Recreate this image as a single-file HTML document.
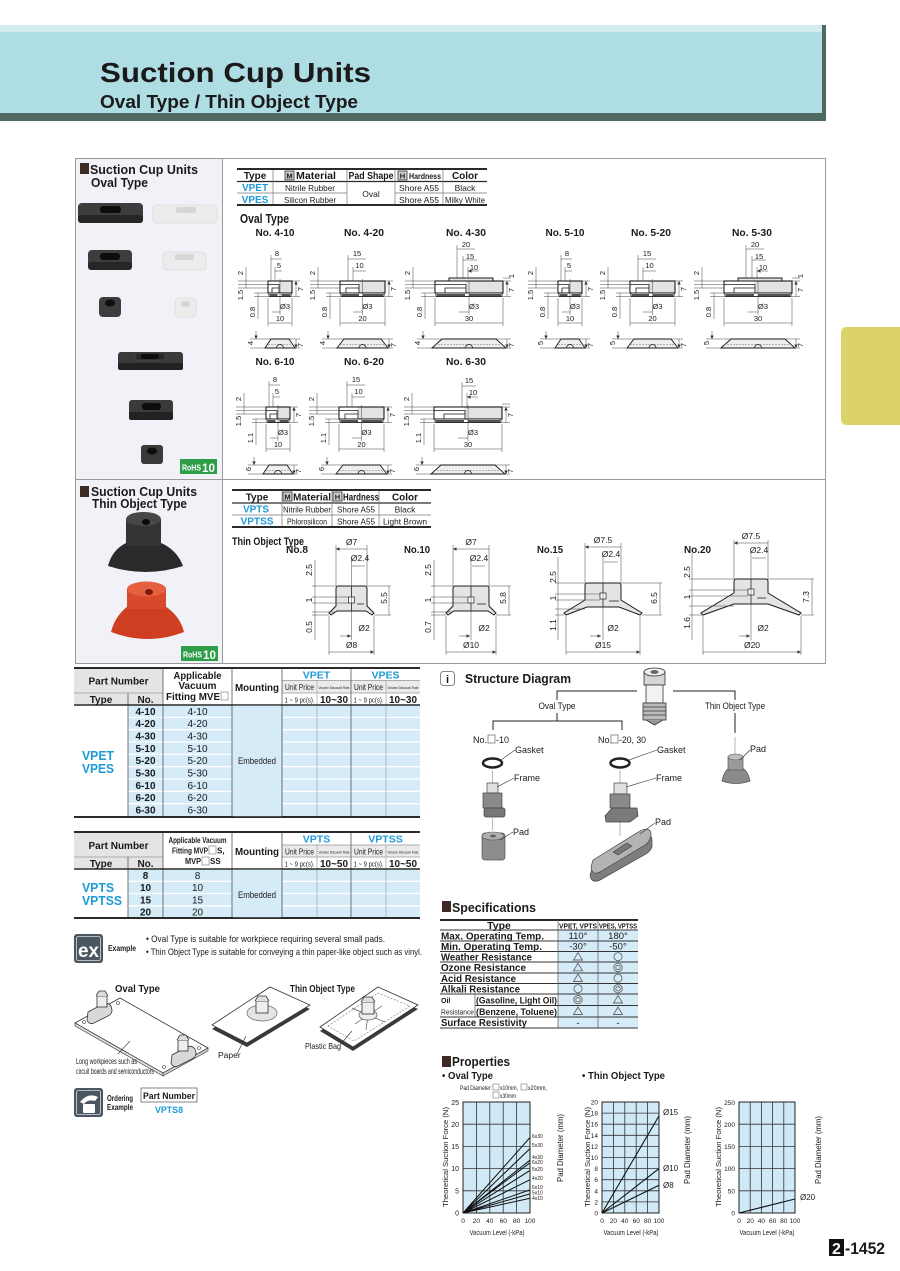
<!DOCTYPE html>
<html><head><meta charset="utf-8">
<style>
html,body{margin:0;padding:0;background:#fff;width:900px;height:1271px;overflow:hidden}
svg{display:block}
text{font-family:"Liberation Sans",Arial,sans-serif;fill:#1a1a1a}
.b{font-weight:bold}
.m{text-anchor:middle}
.e{text-anchor:end}
.bl{fill:#1e9ad8}
.d{font-size:7.5px}
.n{font-size:10.5px;font-weight:bold;text-anchor:middle}
.ln{stroke:#444;stroke-width:.5;fill:none}
.w{fill:#fff}
</style></head><body>
<svg width="900" height="1271" viewBox="0 0 900 1271" xmlns="http://www.w3.org/2000/svg">
<defs>
<marker id="ar" viewBox="0 0 6 6" refX="6" refY="3" markerWidth="3.5" markerHeight="3.5" markerUnits="userSpaceOnUse" orient="auto-start-reverse"><path d="M0 0L6 3L0 6z" fill="#333"/></marker>
<g id="s24">
<rect x="0" y="0" width="24" height="12" fill="#e3e3e3" stroke="#1a1a1a" stroke-width="1.1"/>
<rect x="0.6" y="0.6" width="10.5" height="10.8" fill="#fff"/>
<path d="M0 3.5H11V7H4V12M11 3.5V12" fill="none" stroke="#1a1a1a" stroke-width=".8"/>
<rect x="1" y="12" width="22" height="3.5" fill="#fff" stroke="#1a1a1a" stroke-width=".9"/>
<path d="M2 13.3h7.5v1.5H2zM13.5 13.3h8.5v1.5h-8.5z" fill="#1a1a1a"/>
<path class="ln" d="M-30 0H0M-30 3.5H0M-30 7H0M-14 12H0M-14 15.5H0M-22 -14V7M-10 12V38M24 0H32M24 15.5H32M12 -2V34M3 0V-26M7 0V-14M0 17V45M24 17V45M-18 58H3M-18 67H-3M27 67H32M21 58H32"/>
<path class="ln" marker-end="url(#ar)" d="M14 -22H3M14 -10H7M4 31H12M-12 50V58"/>
<path class="ln" marker-start="url(#ar)" marker-end="url(#ar)" d="M28 0V15.5M0 42H24M28 58V67"/>
<path d="M-3 67L3 58H21L27 67Z" fill="#eee" stroke="#1a1a1a" stroke-width=".9"/>
<path d="M0 63.5H24" stroke="#777" stroke-width=".6" stroke-dasharray="2 1"/>
<path d="M8.5 67A3.5 3.5 0 0 1 15.5 67" fill="none" stroke="#1a1a1a" stroke-width=".8"/>
</g>
<g id="s45">
<rect x="0" y="0" width="45" height="12" fill="#e3e3e3" stroke="#1a1a1a" stroke-width="1.1"/>
<rect x="0.6" y="0.6" width="18" height="10.8" fill="#fff"/>
<path d="M0 3.5H19V7H6V12M19 3.5V12" fill="none" stroke="#1a1a1a" stroke-width=".8"/>
<rect x="1" y="12" width="43" height="3.5" fill="#fff" stroke="#1a1a1a" stroke-width=".9"/>
<path d="M2 13.3h17v1.5H2zM23 13.3h20v1.5H23z" fill="#1a1a1a"/>
<path class="ln" d="M-30 0H0M-30 3.5H0M-30 7H0M-14 12H0M-14 15.5H0M-22 -14V7M-10 12V38M45 0H53M45 15.5H53M22.5 -2V34M8 0V-26M13 0V-14M0 17V45M45 17V45M-18 58H4M-18 67H-3M48 67H53M41 58H53"/>
<path class="ln" marker-end="url(#ar)" d="M26 -22H8M26 -10H13M13 31H22.5M-12 50V58"/>
<path class="ln" marker-start="url(#ar)" marker-end="url(#ar)" d="M49 0V15.5M0 42H45M49 58V67"/>
<path d="M-3 67L4 58H41L48 67Z" fill="#eee" stroke="#1a1a1a" stroke-width=".9"/>
<path d="M0 63.5H45" stroke="#777" stroke-width=".6" stroke-dasharray="2 1"/>
<path d="M19 67A3.5 3.5 0 0 1 26 67" fill="none" stroke="#1a1a1a" stroke-width=".8"/>
</g>
<g id="s68">
<rect x="0" y="0" width="68" height="12" fill="#e3e3e3" stroke="#1a1a1a" stroke-width="1.1"/>
<rect x="0.6" y="0.6" width="30" height="10.8" fill="#fff"/>
<path d="M0 3.5H31V7H10V12M31 3.5V12" fill="none" stroke="#1a1a1a" stroke-width=".8"/>
<rect x="1" y="12" width="66" height="3.5" fill="#fff" stroke="#1a1a1a" stroke-width=".9"/>
<path d="M2 13.3h28v1.5H2zM34 13.3h32v1.5H34z" fill="#1a1a1a"/>
<path class="ln" d="M-30 0H0M-30 3.5H0M-30 7H0M-14 12H0M-14 15.5H0M-22 -14V7M-10 12V38M68 -3H76M68 0H76M68 15.5H76M34 -2V34M0 17V45M68 17V45M-18 58H7M-18 67H-3M71 67H76M61 58H76"/>
<path class="ln" marker-end="url(#ar)" d="M24 31H34M-12 50V58"/>
<path class="ln" marker-start="url(#ar)" marker-end="url(#ar)" d="M72 0V15.5M0 42H68M72 58V67"/>
<path d="M-3 67L7 58H61L71 67Z" fill="#eee" stroke="#1a1a1a" stroke-width=".9"/>
<path d="M0 63.5H68" stroke="#777" stroke-width=".6" stroke-dasharray="2 1"/>
<path d="M30.5 67A3.5 3.5 0 0 1 37.5 67" fill="none" stroke="#1a1a1a" stroke-width=".8"/>
</g>
</defs>

<!-- HEADER -->
<rect x="0" y="25" width="826" height="96" fill="#4f6a61"/>
<rect x="0" y="25" width="822" height="7" fill="#d4ecef"/>
<rect x="0" y="32" width="822" height="81" fill="#afdde4"/>
<text x="100" y="82" class="b" font-size="28" textLength="271" lengthAdjust="spacingAndGlyphs">Suction Cup Units</text>
<text x="100" y="108" class="b" font-size="18" textLength="258" lengthAdjust="spacingAndGlyphs">Oval Type / Thin Object Type</text>

<!-- side tab -->
<rect x="841" y="327" width="70" height="98" rx="5" fill="#dbd26b"/>

<!-- MAIN FRAME -->
<rect x="75.5" y="158.5" width="750" height="505" fill="#fff" stroke="#9a9a9a"/>
<rect x="76" y="159" width="146" height="504" fill="#f1f1f8"/>
<path d="M222.5 158V663M75 479.5H826" stroke="#9a9a9a"/>

<!-- left panel oval -->
<rect x="80" y="163" width="9" height="11" fill="#3b2b22"/>
<text x="90" y="174" class="b" font-size="12.5" textLength="108" lengthAdjust="spacingAndGlyphs">Suction Cup Units</text>
<text x="91" y="187" class="b" font-size="12.5" textLength="57" lengthAdjust="spacingAndGlyphs">Oval Type</text>

<rect x="78" y="203" width="65" height="20" rx="4" fill="#3d3d3d"/>
<rect x="78" y="215" width="65" height="8" rx="3" fill="#262626"/>
<rect x="100" y="206" width="21" height="7" rx="3" fill="#0d0d0d"/>
<rect x="153" y="205" width="64" height="18" rx="4" fill="#ececec" stroke="#dcdcdc" stroke-width=".8"/>
<rect x="176" y="207" width="20" height="6" rx="2" fill="#d6d6d6"/>

<rect x="88" y="250" width="44" height="20" rx="4" fill="#3d3d3d"/>
<rect x="88" y="262" width="44" height="8" rx="3" fill="#262626"/>
<rect x="100" y="253" width="20" height="7" rx="3" fill="#0d0d0d"/>
<rect x="163" y="252" width="43" height="18" rx="4" fill="#ececec" stroke="#dcdcdc" stroke-width=".8"/>
<rect x="175" y="254" width="19" height="6" rx="2" fill="#d6d6d6"/>

<rect x="99" y="297" width="22" height="20" rx="4" fill="#3d3d3d"/>
<ellipse cx="110" cy="303" rx="5" ry="3.5" fill="#0d0d0d"/>
<rect x="175" y="298" width="21" height="19" rx="4" fill="#ececec" stroke="#dcdcdc" stroke-width=".8"/>
<ellipse cx="185.5" cy="304" rx="5" ry="3" fill="#d6d6d6"/>

<rect x="118" y="352" width="65" height="18" rx="3" fill="#3a3a3a"/>
<rect x="118" y="363" width="65" height="7" rx="2" fill="#222"/>
<rect x="135" y="353" width="30" height="7" rx="2" fill="#2a2a2a" stroke="#555" stroke-width=".6"/>
<rect x="141" y="354" width="18" height="5" rx="2" fill="#0d0d0d"/>

<rect x="129" y="400" width="44" height="20" rx="3" fill="#3a3a3a"/>
<rect x="129" y="412" width="44" height="8" rx="2" fill="#222"/>
<rect x="142" y="403" width="19" height="7" rx="3" fill="#0d0d0d"/>

<rect x="141" y="445" width="22" height="19" rx="3" fill="#3a3a3a"/>
<ellipse cx="152" cy="451" rx="5" ry="3.5" fill="#0d0d0d"/>

<rect x="180" y="459" width="37" height="15" fill="#2f9e48"/>
<text x="182" y="470.5" class="b w" font-size="8.5" textLength="19" lengthAdjust="spacingAndGlyphs">RoHS</text>
<text x="202" y="472" class="b w" font-size="12" textLength="13" lengthAdjust="spacingAndGlyphs">10</text>

<!-- oval type table -->
<path d="M237 169H487M237 205H487" stroke="#2a2a2a" stroke-width="2"/>
<path d="M237 181.5H487" stroke="#2a2a2a" stroke-width="1.3"/>
<path d="M237 193H347M395 193H487" stroke="#777" stroke-width=".7"/>
<path d="M273 170V204M347 170V204M395 170V204M443 170V204" stroke="#777" stroke-width=".7"/>
<text x="255" y="179" class="b m" font-size="10">Type</text>
<rect x="285" y="171" width="9" height="9" fill="#cfcfcf" stroke="#333" stroke-width=".8"/>
<text x="289.5" y="178.5" class="b m" font-size="7.5">M</text>
<text x="296" y="179" class="b" font-size="10" textLength="40" lengthAdjust="spacingAndGlyphs">Material</text>
<text x="371" y="179" class="b m" font-size="10" textLength="45" lengthAdjust="spacingAndGlyphs">Pad Shape</text>
<rect x="398" y="171" width="9" height="9" fill="#cfcfcf" stroke="#333" stroke-width=".8"/>
<text x="402.5" y="178.5" class="b m" font-size="7.5">H</text>
<text x="409" y="179" class="b" font-size="8" textLength="32" lengthAdjust="spacingAndGlyphs">Hardness</text>
<text x="465" y="179" class="b m" font-size="10">Color</text>
<text x="255" y="191" class="b m bl" font-size="10">VPET</text>
<text x="310" y="191" class="m" font-size="8.5" textLength="50" lengthAdjust="spacingAndGlyphs">Nitrile Rubber</text>
<text x="371" y="197" class="m" font-size="8.5">Oval</text>
<text x="419" y="191" class="m" font-size="8.5" textLength="40" lengthAdjust="spacingAndGlyphs">Shore A55</text>
<text x="465" y="191" class="m" font-size="8.5">Black</text>
<text x="255" y="203" class="b m bl" font-size="10">VPES</text>
<text x="310" y="203" class="m" font-size="8.5" textLength="52" lengthAdjust="spacingAndGlyphs">Silicon Rubber</text>
<text x="419" y="203" class="m" font-size="8.5" textLength="40" lengthAdjust="spacingAndGlyphs">Shore A55</text>
<text x="465" y="203" class="m" font-size="8" textLength="40" lengthAdjust="spacingAndGlyphs">Milky White</text>

<text x="240" y="223" class="b" font-size="12.5" textLength="49" lengthAdjust="spacingAndGlyphs">Oval Type</text>

<!-- oval drawings -->
<use href="#s24" x="268" y="281"/>
<use href="#s45" x="340" y="281"/>
<use href="#s68" x="435" y="281"/>
<use href="#s24" x="558" y="281"/>
<use href="#s45" x="630" y="281"/>
<use href="#s68" x="724" y="281"/>
<use href="#s24" x="266" y="407"/>
<use href="#s45" x="339" y="407"/>
<use href="#s68" x="434" y="407"/>
<g transform="translate(435 281)"><rect x="14" y="-3" width="44" height="3" fill="#e3e3e3" stroke="#1a1a1a"/><path class="ln" d="M22 -3V-36M28 -3V-25M33 -3V-14"/><path class="ln" marker-end="url(#ar)" d="M40 -32H22M42 -21H28M44 -10H33"/></g>
<g transform="translate(724 281)"><rect x="14" y="-3" width="44" height="3" fill="#e3e3e3" stroke="#1a1a1a"/><path class="ln" d="M22 -3V-36M28 -3V-25M33 -3V-14"/><path class="ln" marker-end="url(#ar)" d="M40 -32H22M42 -21H28M44 -10H33"/></g>
<g transform="translate(434 407)"><path class="ln" d="M28 0V-25M33 0V-14"/><path class="ln" marker-end="url(#ar)" d="M42 -21H28M44 -10H33"/></g>

<text class="n" x="275" y="236" textLength="39" lengthAdjust="spacingAndGlyphs">No. 4-10</text>
<text class="n" x="364" y="236" textLength="40" lengthAdjust="spacingAndGlyphs">No. 4-20</text>
<text class="n" x="466" y="236" textLength="40" lengthAdjust="spacingAndGlyphs">No. 4-30</text>
<text class="n" x="565" y="236" textLength="39" lengthAdjust="spacingAndGlyphs">No. 5-10</text>
<text class="n" x="651" y="236" textLength="40" lengthAdjust="spacingAndGlyphs">No. 5-20</text>
<text class="n" x="752" y="236" textLength="40" lengthAdjust="spacingAndGlyphs">No. 5-30</text>
<text class="n" x="275" y="365" textLength="39" lengthAdjust="spacingAndGlyphs">No. 6-10</text>
<text class="n" x="364" y="365" textLength="40" lengthAdjust="spacingAndGlyphs">No. 6-20</text>
<text class="n" x="466" y="365" textLength="40" lengthAdjust="spacingAndGlyphs">No. 6-30</text>

<g class="d">
<!-- D1 -->
<text x="277" y="256" class="m d">8</text><text x="279" y="268" class="m d">5</text>
<text transform="translate(243 273) rotate(-90)" class="m d">2</text>
<text transform="translate(243 295) rotate(-90)" class="m d">1.5</text>
<text transform="translate(255 312) rotate(-90)" class="m d">0.8</text>
<text transform="translate(303 289) rotate(-90)" class="m d">7</text>
<text x="285" y="309" class="m d">Ø3</text><text x="280" y="321" class="m d">10</text>
<text transform="translate(253 343) rotate(-90)" class="m d">4</text>
<text transform="translate(303 345) rotate(-90)" class="m d">7</text>
<!-- D2 -->
<text x="357" y="256" class="m d">15</text><text x="359.5" y="268" class="m d">10</text>
<text transform="translate(315 273) rotate(-90)" class="m d">2</text>
<text transform="translate(315 295) rotate(-90)" class="m d">1.5</text>
<text transform="translate(327 312) rotate(-90)" class="m d">0.8</text>
<text transform="translate(396 289) rotate(-90)" class="m d">7</text>
<text x="367.5" y="309" class="m d">Ø3</text><text x="362.5" y="321" class="m d">20</text>
<text transform="translate(325 343) rotate(-90)" class="m d">4</text>
<text transform="translate(396 345) rotate(-90)" class="m d">7</text>
<!-- D3 -->
<text x="466" y="247" class="m d">20</text><text x="470" y="259" class="m d">15</text><text x="474" y="270" class="m d">10</text>
<text transform="translate(410 273) rotate(-90)" class="m d">2</text>
<text transform="translate(410 295) rotate(-90)" class="m d">1.5</text>
<text transform="translate(422 312) rotate(-90)" class="m d">0.8</text>
<text transform="translate(514 276) rotate(-90)" class="m d">1</text>
<text transform="translate(514 290) rotate(-90)" class="m d">7</text>
<text x="474" y="309" class="m d">Ø3</text><text x="469" y="321" class="m d">30</text>
<text transform="translate(420 343) rotate(-90)" class="m d">4</text>
<text transform="translate(514 345) rotate(-90)" class="m d">7</text>
<!-- D4 -->
<text x="567" y="256" class="m d">8</text><text x="569" y="268" class="m d">5</text>
<text transform="translate(533 273) rotate(-90)" class="m d">2</text>
<text transform="translate(533 295) rotate(-90)" class="m d">1.5</text>
<text transform="translate(545 312) rotate(-90)" class="m d">0.8</text>
<text transform="translate(593 289) rotate(-90)" class="m d">7</text>
<text x="575" y="309" class="m d">Ø3</text><text x="570" y="321" class="m d">10</text>
<text transform="translate(543 343) rotate(-90)" class="m d">5</text>
<text transform="translate(593 345) rotate(-90)" class="m d">7</text>
<!-- D5 -->
<text x="647" y="256" class="m d">15</text><text x="649.5" y="268" class="m d">10</text>
<text transform="translate(605 273) rotate(-90)" class="m d">2</text>
<text transform="translate(605 295) rotate(-90)" class="m d">1.5</text>
<text transform="translate(617 312) rotate(-90)" class="m d">0.8</text>
<text transform="translate(686 289) rotate(-90)" class="m d">7</text>
<text x="657.5" y="309" class="m d">Ø3</text><text x="652.5" y="321" class="m d">20</text>
<text transform="translate(615 343) rotate(-90)" class="m d">5</text>
<text transform="translate(686 345) rotate(-90)" class="m d">7</text>
<!-- D6 -->
<text x="755" y="247" class="m d">20</text><text x="759" y="259" class="m d">15</text><text x="763" y="270" class="m d">10</text>
<text transform="translate(699 273) rotate(-90)" class="m d">2</text>
<text transform="translate(699 295) rotate(-90)" class="m d">1.5</text>
<text transform="translate(711 312) rotate(-90)" class="m d">0.8</text>
<text transform="translate(803 276) rotate(-90)" class="m d">1</text>
<text transform="translate(803 290) rotate(-90)" class="m d">7</text>
<text x="763" y="309" class="m d">Ø3</text><text x="758" y="321" class="m d">30</text>
<text transform="translate(709 343) rotate(-90)" class="m d">5</text>
<text transform="translate(803 345) rotate(-90)" class="m d">7</text>
<!-- D7 -->
<text x="275" y="382" class="m d">8</text><text x="277" y="394" class="m d">5</text>
<text transform="translate(241 399) rotate(-90)" class="m d">2</text>
<text transform="translate(241 421) rotate(-90)" class="m d">1.5</text>
<text transform="translate(253 438) rotate(-90)" class="m d">1.1</text>
<text transform="translate(301 415) rotate(-90)" class="m d">7</text>
<text x="283" y="435" class="m d">Ø3</text><text x="278" y="447" class="m d">10</text>
<text transform="translate(251 469) rotate(-90)" class="m d">6</text>
<text transform="translate(301 471) rotate(-90)" class="m d">7</text>
<!-- D8 -->
<text x="356" y="382" class="m d">15</text><text x="358.5" y="394" class="m d">10</text>
<text transform="translate(314 399) rotate(-90)" class="m d">2</text>
<text transform="translate(314 421) rotate(-90)" class="m d">1.5</text>
<text transform="translate(326 438) rotate(-90)" class="m d">1.1</text>
<text transform="translate(395 415) rotate(-90)" class="m d">7</text>
<text x="366.5" y="435" class="m d">Ø3</text><text x="361.5" y="447" class="m d">20</text>
<text transform="translate(324 469) rotate(-90)" class="m d">6</text>
<text transform="translate(395 471) rotate(-90)" class="m d">7</text>
<!-- D9 -->
<text x="469" y="383" class="m d">15</text><text x="473" y="395" class="m d">10</text>
<text transform="translate(409 399) rotate(-90)" class="m d">2</text>
<text transform="translate(409 421) rotate(-90)" class="m d">1.5</text>
<text transform="translate(421 438) rotate(-90)" class="m d">1.1</text>
<text transform="translate(513 415) rotate(-90)" class="m d">7</text>
<text x="473" y="435" class="m d">Ø3</text><text x="468" y="447" class="m d">30</text>
<text transform="translate(419 469) rotate(-90)" class="m d">6</text>
<text transform="translate(513 471) rotate(-90)" class="m d">7</text>
</g>

<!-- left panel thin -->
<rect x="80" y="486" width="9" height="11" fill="#3b2b22"/>
<text x="91" y="496" class="b" font-size="12.5" textLength="106" lengthAdjust="spacingAndGlyphs">Suction Cup Units</text>
<text x="92" y="508" class="b" font-size="12.5" textLength="95" lengthAdjust="spacingAndGlyphs">Thin Object Type</text>
<path d="M108 566Q112 550 126 543L161 543Q177 550 183 566Q146 578 108 566Z" fill="#2a2a2a"/>
<rect x="126" y="519" width="35" height="27" fill="#333"/>
<ellipse cx="143.5" cy="519" rx="17.5" ry="7" fill="#474747"/>
<ellipse cx="146" cy="522" rx="4" ry="3" fill="#0a0a0a"/>
<path d="M111 632Q115 616 128 606L165 606Q180 616 184 632Q148 646 111 632Z" fill="#cf3e21"/>
<rect x="127" y="589" width="39" height="20" fill="#d8482a"/>
<ellipse cx="146.5" cy="589" rx="19.5" ry="7.5" fill="#e5603f"/>
<ellipse cx="149" cy="592" rx="4" ry="3" fill="#7a1a08"/>
<rect x="181" y="646" width="37" height="15" fill="#2f9e48"/>
<text x="183" y="657.5" class="b w" font-size="8.5" textLength="19" lengthAdjust="spacingAndGlyphs">RoHS</text>
<text x="203" y="659" class="b w" font-size="12" textLength="13" lengthAdjust="spacingAndGlyphs">10</text>

<!-- thin type table -->
<path d="M232 490H431M232 527H431" stroke="#2a2a2a" stroke-width="2"/>
<path d="M232 503H431" stroke="#2a2a2a" stroke-width="1.3"/>
<path d="M232 515H431" stroke="#777" stroke-width=".7"/>
<path d="M282 491V526M332 491V526M379 491V526" stroke="#777" stroke-width=".7"/>
<text x="257" y="500.5" class="b m" font-size="10">Type</text>
<rect x="283" y="492" width="9" height="9" fill="#cfcfcf" stroke="#333" stroke-width=".8"/>
<text x="287.5" y="499.5" class="b m" font-size="7.5">M</text>
<text x="293" y="500.5" class="b" font-size="10" textLength="38" lengthAdjust="spacingAndGlyphs">Material</text>
<rect x="333" y="492" width="9" height="9" fill="#cfcfcf" stroke="#333" stroke-width=".8"/>
<text x="337.5" y="499.5" class="b m" font-size="7.5">H</text>
<text x="343" y="500.5" class="b" font-size="10" textLength="36" lengthAdjust="spacingAndGlyphs">Hardness</text>
<text x="405" y="500.5" class="b m" font-size="10">Color</text>
<text x="256" y="512.5" class="b m bl" font-size="10">VPTS</text>
<text x="307" y="512.5" class="m" font-size="8.5" textLength="48" lengthAdjust="spacingAndGlyphs">Nitrile Rubber</text>
<text x="356" y="512.5" class="m" font-size="8.5" textLength="38" lengthAdjust="spacingAndGlyphs">Shore A55</text>
<text x="405" y="512.5" class="m" font-size="8.5">Black</text>
<text x="257" y="524.5" class="b m bl" font-size="10" textLength="33" lengthAdjust="spacingAndGlyphs">VPTSS</text>
<text x="307" y="524.5" class="m" font-size="8.5" textLength="40" lengthAdjust="spacingAndGlyphs">Phlorosilicon</text>
<text x="356" y="524.5" class="m" font-size="8.5" textLength="38" lengthAdjust="spacingAndGlyphs">Shore A55</text>
<text x="405" y="524.5" class="m" font-size="8.5" textLength="44" lengthAdjust="spacingAndGlyphs">Light Brown</text>

<text x="232" y="545" class="b" font-size="11" textLength="72" lengthAdjust="spacingAndGlyphs">Thin Object Type</text>
<text x="286" y="553" class="b" font-size="10" textLength="22" lengthAdjust="spacingAndGlyphs">No.8</text>
<text x="404" y="553" class="b" font-size="10" textLength="26" lengthAdjust="spacingAndGlyphs">No.10</text>
<text x="537" y="553" class="b" font-size="10" textLength="26" lengthAdjust="spacingAndGlyphs">No.15</text>
<text x="684" y="553" class="b" font-size="10" textLength="27" lengthAdjust="spacingAndGlyphs">No.20</text>

<!-- No.8 -->
<path d="M338 586H365Q367 586 367 589V606L374 613L372 615L366 611H337L331 615L329 613L336 606V589Q336 586 338 586Z" fill="#e4e4e4" stroke="#1a1a1a"/>
<path d="M351.5 586V611M357 604H364" stroke="#1a1a1a" stroke-width=".7"/>
<rect x="348.5" y="597" width="6" height="6" fill="#fff" stroke="#1a1a1a" stroke-width=".7"/>
<path class="ln" d="M336 586V545M367 586V545M351.5 558V640M312 586H336M312 597H349M312 603H349M312 612H336M312 615H329M315 560V640M367 586H391M374 615H391M329 616V655M374 616V655"/>
<path class="ln" marker-start="url(#ar)" marker-end="url(#ar)" d="M336 549H367M389 586V615M329 652H374"/>
<path class="ln" marker-end="url(#ar)" d="M365 566H352M340 636H351"/>
<text x="351.5" y="545" class="m" font-size="8.5">Ø7</text>
<text x="360" y="561" class="m" font-size="8.5">Ø2.4</text>
<text transform="translate(312 570) rotate(-90)" class="m" font-size="8.5">2.5</text>
<text transform="translate(312 600) rotate(-90)" class="m" font-size="8.5">1</text>
<text transform="translate(312 627) rotate(-90)" class="m" font-size="8.5">0.5</text>
<text transform="translate(387 598) rotate(-90)" class="m" font-size="8.5">5.5</text>
<text x="364" y="631" class="m" font-size="8.5">Ø2</text>
<text x="351.5" y="648" class="m" font-size="8.5">Ø8</text>

<!-- No.10 -->
<path d="M455 586H487Q489 586 489 589V606L496 613L494 615L488 611H454L448 615L446 613L453 606V589Q453 586 455 586Z" fill="#e4e4e4" stroke="#1a1a1a"/>
<path d="M471 586V611M477 604H486" stroke="#1a1a1a" stroke-width=".7"/>
<rect x="468" y="597" width="6" height="6" fill="#fff" stroke="#1a1a1a" stroke-width=".7"/>
<path class="ln" d="M453 586V545M489 586V545M471 558V640M431 586H453M431 597H468M431 603H468M431 612H453M431 615H446M434 560V640M489 586H511M496 615H511M446 616V655M496 616V655"/>
<path class="ln" marker-start="url(#ar)" marker-end="url(#ar)" d="M453 549H489M509 586V615M446 652H496"/>
<path class="ln" marker-end="url(#ar)" d="M485 566H472M459 636H470"/>
<text x="471" y="545" class="m" font-size="8.5">Ø7</text>
<text x="479" y="561" class="m" font-size="8.5">Ø2.4</text>
<text transform="translate(431 570) rotate(-90)" class="m" font-size="8.5">2.5</text>
<text transform="translate(431 600) rotate(-90)" class="m" font-size="8.5">1</text>
<text transform="translate(431 627) rotate(-90)" class="m" font-size="8.5">0.7</text>
<text transform="translate(506 598) rotate(-90)" class="m" font-size="8.5">5.8</text>
<text x="484" y="631" class="m" font-size="8.5">Ø2</text>
<text x="471" y="648" class="m" font-size="8.5">Ø10</text>

<!-- No.15 -->
<path d="M587 583H619Q621 583 621 586V600L642 613L640 615L619 607H587L566 615L564 613L585 600V586Q585 583 587 583Z" fill="#e4e4e4" stroke="#1a1a1a"/>
<path d="M603 583V607M609 601H619" stroke="#1a1a1a" stroke-width=".7"/>
<rect x="600" y="593" width="6" height="6" fill="#fff" stroke="#1a1a1a" stroke-width=".7"/>
<path class="ln" d="M585 583V543M621 583V543M603 555V640M555 583H585M555 594H600M555 600H600M555 609H585M555 615H564M558 557V640M621 583H662M642 615H662M566 616V655M640 616V655"/>
<path class="ln" marker-start="url(#ar)" marker-end="url(#ar)" d="M585 547H621M660 583V615M566 652H640"/>
<path class="ln" marker-end="url(#ar)" d="M618 562H604M590 636H601"/>
<text x="603" y="543" class="m" font-size="8.5">Ø7.5</text>
<text x="611" y="557" class="m" font-size="8.5">Ø2.4</text>
<text transform="translate(556 577) rotate(-90)" class="m" font-size="8.5">2.5</text>
<text transform="translate(556 598) rotate(-90)" class="m" font-size="8.5">1</text>
<text transform="translate(556 625) rotate(-90)" class="m" font-size="8.5">1.1</text>
<text transform="translate(657 598) rotate(-90)" class="m" font-size="8.5">6.5</text>
<text x="613" y="631" class="m" font-size="8.5">Ø2</text>
<text x="603" y="648" class="m" font-size="8.5">Ø15</text>

<!-- No.20 -->
<path d="M736 579H766Q768 579 768 582V593L801 613L799 615L768 604H734L703 615L701 613L734 593V582Q734 579 736 579Z" fill="#e4e4e4" stroke="#1a1a1a"/>
<path d="M751 579V604M757 598H766" stroke="#1a1a1a" stroke-width=".7"/>
<rect x="748" y="589" width="6" height="6" fill="#fff" stroke="#1a1a1a" stroke-width=".7"/>
<path class="ln" d="M734 579V540M768 579V540M751 551V640M689 579H734M689 590H748M689 596H748M689 606H734M689 615H703M692 553V640M768 579H814M801 615H814M703 616V655M801 616V655"/>
<path class="ln" marker-start="url(#ar)" marker-end="url(#ar)" d="M734 543H768M812 579V615M703 652H801"/>
<path class="ln" marker-end="url(#ar)" d="M766 558H752M739 636H750"/>
<text x="751" y="539" class="m" font-size="8.5">Ø7.5</text>
<text x="759" y="553" class="m" font-size="8.5">Ø2.4</text>
<text transform="translate(690 572) rotate(-90)" class="m" font-size="8.5">2.5</text>
<text transform="translate(690 597) rotate(-90)" class="m" font-size="8.5">1</text>
<text transform="translate(690 623) rotate(-90)" class="m" font-size="8.5">1.6</text>
<text transform="translate(809 597) rotate(-90)" class="m" font-size="8.5">7.3</text>
<text x="763" y="631" class="m" font-size="8.5">Ø2</text>
<text x="752" y="648" class="m" font-size="8.5">Ø20</text>

<!-- PART NUMBER TABLE 1 -->
<rect x="74" y="668" width="89" height="37" fill="#e4e4e4"/>
<rect x="282" y="680" width="138" height="13" fill="#ebebeb"/>
<rect x="128" y="705" width="292" height="112" fill="#d5ebf8"/>
<path d="M128 717.4H232M128 729.7H232M128 742H232M128 754.3H232M128 766.7H232M128 779H232M128 791.3H232M128 803.7H232M282 717.4H420M282 729.7H420M282 742H420M282 754.3H420M282 766.7H420M282 779H420M282 791.3H420M282 803.7H420" stroke="#fff" stroke-width="1.3"/>
<path d="M282 680.5H420M74 693H163M282 693H420" stroke="#999" stroke-width=".8"/>
<path d="M128 693V817M163 668V817M232 668V817M282 668V817M351 668V817" stroke="#555" stroke-width=".8"/>
<path d="M317 680V817M386 680V817" stroke="#9aa" stroke-width=".7"/>
<path d="M74 668H420M74 817H420" stroke="#2a2a2a" stroke-width="2"/>
<path d="M74 705H420" stroke="#2a2a2a" stroke-width="1.4"/>
<text x="118.5" y="684.5" class="b m" font-size="10" textLength="60" lengthAdjust="spacingAndGlyphs">Part Number</text>
<text x="101" y="703" class="b m" font-size="10">Type</text>
<text x="145.5" y="703" class="b m" font-size="10">No.</text>
<text x="197.5" y="679" class="b m" font-size="10" textLength="48" lengthAdjust="spacingAndGlyphs">Applicable</text>
<text x="197.5" y="689" class="b m" font-size="10" textLength="38" lengthAdjust="spacingAndGlyphs">Vacuum</text>
<text x="166" y="700" class="b" font-size="10" textLength="54" lengthAdjust="spacingAndGlyphs">Fitting MVE</text>
<rect x="221" y="692" width="7" height="8" fill="#fff" stroke="#888" stroke-width=".7"/>
<text x="257" y="691" class="b m" font-size="10.5" textLength="44" lengthAdjust="spacingAndGlyphs">Mounting</text>
<text x="316.5" y="678.5" class="b m bl" font-size="10.5">VPET</text>
<text x="385.5" y="678.5" class="b m bl" font-size="10.5">VPES</text>
<text x="299.5" y="690" class="m" font-size="8" textLength="29" lengthAdjust="spacingAndGlyphs">Unit Price</text>
<text x="334" y="689" class="m" font-size="4" textLength="31" lengthAdjust="spacingAndGlyphs">Volume Discount Rate</text>
<text x="368.5" y="690" class="m" font-size="8" textLength="29" lengthAdjust="spacingAndGlyphs">Unit Price</text>
<text x="403" y="689" class="m" font-size="4" textLength="31" lengthAdjust="spacingAndGlyphs">Volume Discount Rate</text>
<text x="299.5" y="702.5" class="m" font-size="7.5" textLength="30" lengthAdjust="spacingAndGlyphs">1 ~ 9 pc(s).</text>
<text x="334" y="703" class="b m" font-size="10" textLength="28" lengthAdjust="spacingAndGlyphs">10~30</text>
<text x="368.5" y="702.5" class="m" font-size="7.5" textLength="30" lengthAdjust="spacingAndGlyphs">1 ~ 9 pc(s).</text>
<text x="403" y="703" class="b m" font-size="10" textLength="28" lengthAdjust="spacingAndGlyphs">10~30</text>
<text x="82" y="760" class="b bl" font-size="13" textLength="32" lengthAdjust="spacingAndGlyphs">VPET</text>
<text x="82" y="773" class="b bl" font-size="13" textLength="32" lengthAdjust="spacingAndGlyphs">VPES</text>
<g class="b m bl" font-size="10">
<text x="145.5" y="715">4-10</text><text x="145.5" y="727">4-20</text><text x="145.5" y="739.5">4-30</text>
<text x="145.5" y="752">5-10</text><text x="145.5" y="764">5-20</text><text x="145.5" y="776.5">5-30</text>
<text x="145.5" y="789">6-10</text><text x="145.5" y="801">6-20</text><text x="145.5" y="813.5">6-30</text>
</g>
<g class="m" font-size="10">
<text x="197.5" y="715">4-10</text><text x="197.5" y="727">4-20</text><text x="197.5" y="739.5">4-30</text>
<text x="197.5" y="752">5-10</text><text x="197.5" y="764">5-20</text><text x="197.5" y="776.5">5-30</text>
<text x="197.5" y="789">6-10</text><text x="197.5" y="801">6-20</text><text x="197.5" y="813.5">6-30</text>
</g>
<rect x="233" y="705.8" width="48.5" height="110.4" fill="#d5ebf8"/>
<text x="257" y="764" class="m" font-size="9.5" textLength="38" lengthAdjust="spacingAndGlyphs">Embedded</text>

<!-- PART NUMBER TABLE 2 -->
<rect x="74" y="832" width="89" height="37" fill="#e4e4e4"/>
<rect x="282" y="845" width="138" height="12" fill="#ebebeb"/>
<rect x="128" y="869" width="292" height="49" fill="#d5ebf8"/>
<path d="M128 881.3H232M128 893.5H232M128 905.8H232M282 881.3H420M282 893.5H420M282 905.8H420" stroke="#fff" stroke-width="1.3"/>
<path d="M282 845H420M74 857H163M282 857H420" stroke="#999" stroke-width=".8"/>
<path d="M128 857V918M163 832V918M232 832V918M282 832V918M351 832V918" stroke="#555" stroke-width=".8"/>
<path d="M317 845V918M386 845V918" stroke="#9aa" stroke-width=".7"/>
<path d="M74 832H420M74 918H420" stroke="#2a2a2a" stroke-width="2"/>
<path d="M74 869H420" stroke="#2a2a2a" stroke-width="1.4"/>
<text x="118.5" y="849" class="b m" font-size="10" textLength="60" lengthAdjust="spacingAndGlyphs">Part Number</text>
<text x="101" y="867" class="b m" font-size="10">Type</text>
<text x="145.5" y="867" class="b m" font-size="10">No.</text>
<text x="197.5" y="843" class="b m" font-size="8" textLength="58" lengthAdjust="spacingAndGlyphs">Applicable Vacuum</text>
<text x="172" y="853.5" class="b" font-size="8" textLength="36" lengthAdjust="spacingAndGlyphs">Fitting MVP</text>
<rect x="209" y="846" width="7" height="8" fill="#fff" stroke="#888" stroke-width=".7"/>
<text x="217" y="853.5" class="b" font-size="8">S,</text>
<text x="185" y="864" class="b" font-size="8" textLength="16" lengthAdjust="spacingAndGlyphs">MVP</text>
<rect x="202" y="857" width="7" height="8" fill="#fff" stroke="#888" stroke-width=".7"/>
<text x="210" y="864" class="b" font-size="8">SS</text>
<text x="257" y="855" class="b m" font-size="10.5" textLength="44" lengthAdjust="spacingAndGlyphs">Mounting</text>
<text x="316.5" y="842.5" class="b m bl" font-size="10.5">VPTS</text>
<text x="385.5" y="842.5" class="b m bl" font-size="10.5">VPTSS</text>
<text x="299.5" y="854.5" class="m" font-size="8" textLength="29" lengthAdjust="spacingAndGlyphs">Unit Price</text>
<text x="334" y="853.5" class="m" font-size="4" textLength="31" lengthAdjust="spacingAndGlyphs">Volume Discount Rate</text>
<text x="368.5" y="854.5" class="m" font-size="8" textLength="29" lengthAdjust="spacingAndGlyphs">Unit Price</text>
<text x="403" y="853.5" class="m" font-size="4" textLength="31" lengthAdjust="spacingAndGlyphs">Volume Discount Rate</text>
<text x="299.5" y="866.5" class="m" font-size="7.5" textLength="30" lengthAdjust="spacingAndGlyphs">1 ~ 9 pc(s).</text>
<text x="334" y="867" class="b m" font-size="10" textLength="28" lengthAdjust="spacingAndGlyphs">10~50</text>
<text x="368.5" y="866.5" class="m" font-size="7.5" textLength="30" lengthAdjust="spacingAndGlyphs">1 ~ 9 pc(s).</text>
<text x="403" y="867" class="b m" font-size="10" textLength="28" lengthAdjust="spacingAndGlyphs">10~50</text>
<text x="82" y="892" class="b bl" font-size="13" textLength="32" lengthAdjust="spacingAndGlyphs">VPTS</text>
<text x="82" y="905" class="b bl" font-size="13" textLength="40" lengthAdjust="spacingAndGlyphs">VPTSS</text>
<g class="b m bl" font-size="10">
<text x="145.5" y="879">8</text><text x="145.5" y="891">10</text><text x="145.5" y="903.5">15</text><text x="145.5" y="915.5">20</text>
</g>
<g class="m" font-size="10">
<text x="197.5" y="879">8</text><text x="197.5" y="891">10</text><text x="197.5" y="903.5">15</text><text x="197.5" y="915.5">20</text>
</g>
<rect x="233" y="869.8" width="48.5" height="47.4" fill="#d5ebf8"/>
<text x="257" y="898" class="m" font-size="9.5" textLength="38" lengthAdjust="spacingAndGlyphs">Embedded</text>

<!-- EXAMPLE -->
<rect x="74" y="934" width="29" height="29" rx="3" fill="#4b5661"/>
<rect x="76.5" y="936.5" width="24" height="24" rx="2" fill="none" stroke="#d8dde2" stroke-width=".8"/>
<text x="88.5" y="957" class="b m w" font-size="19" textLength="21" lengthAdjust="spacingAndGlyphs">ex</text>
<text x="108" y="951" class="b" font-size="8" textLength="28" lengthAdjust="spacingAndGlyphs">Example</text>
<text x="146" y="942" font-size="9.5" textLength="239" lengthAdjust="spacingAndGlyphs">• Oval Type is suitable for workpiece requiring several small pads.</text>
<text x="146" y="955" font-size="9.5" textLength="276" lengthAdjust="spacingAndGlyphs">• Thin Object Type is suitable for conveying a thin paper-like object such as vinyl.</text>

<text x="115" y="992" class="b" font-size="10.5" textLength="45" lengthAdjust="spacingAndGlyphs">Oval Type</text>
<polygon points="75,1023 120,998 208,1048 163,1073" fill="#fff" stroke="#333" stroke-width=".8"/>
<polygon points="75,1023 163,1073 163,1076 75,1026" fill="#ddd" stroke="#333" stroke-width=".6"/>
<polygon points="163,1073 208,1048 208,1051 163,1076" fill="#ccc" stroke="#333" stroke-width=".6"/>
<circle cx="84" cy="1022" r="1.5" fill="none" stroke="#333" stroke-width=".6"/>
<circle cx="118" cy="1003" r="1.5" fill="none" stroke="#333" stroke-width=".6"/>
<circle cx="199" cy="1048" r="1.5" fill="none" stroke="#333" stroke-width=".6"/>
<circle cx="164" cy="1067" r="1.5" fill="none" stroke="#333" stroke-width=".6"/>
<path d="M88 1012L103 1004Q108 1002 111 1006L112 1010Q112 1014 108 1016L94 1023Q89 1025 87 1020Z" fill="#d8d8d8" stroke="#333" stroke-width=".8"/>
<rect x="97" y="996" width="10" height="11" fill="#eee" stroke="#333" stroke-width=".8"/>
<path d="M96 996L99 991H105L108 996" fill="#ddd" stroke="#333" stroke-width=".8"/>
<path d="M172 1055L187 1047Q192 1045 195 1049L196 1053Q196 1057 192 1059L178 1066Q173 1068 171 1063Z" fill="#d8d8d8" stroke="#333" stroke-width=".8"/>
<rect x="178" y="1040" width="10" height="11" fill="#eee" stroke="#333" stroke-width=".8"/>
<path d="M177 1040L180 1035H186L189 1040" fill="#ddd" stroke="#333" stroke-width=".8"/>
<path d="M118 1054L130 1041" stroke="#333" stroke-width=".6"/>
<text x="76" y="1064" font-size="8" textLength="61" lengthAdjust="spacingAndGlyphs">Long workpieces such as</text>
<text x="76" y="1074" font-size="8" textLength="78" lengthAdjust="spacingAndGlyphs">circuit boards and semiconductors</text>

<text x="290" y="992" class="b" font-size="10.5" textLength="65" lengthAdjust="spacingAndGlyphs">Thin Object Type</text>
<polygon points="212,1029 270,991 310,1009 247,1047" fill="#3a3a3a"/>
<polygon points="212,1025 270,987 310,1005 247,1043" fill="#fff" stroke="#333" stroke-width=".8"/>
<ellipse cx="262" cy="1013" rx="15" ry="8" fill="#e4e4e4" stroke="#666" stroke-width=".7"/>
<rect x="256" y="1001" width="12" height="12" fill="#eee" stroke="#333" stroke-width=".8"/>
<path d="M255 1001L258 996H266L269 1001" fill="#ddd" stroke="#333" stroke-width=".8"/>
<path d="M237 1054L246 1036" stroke="#333" stroke-width=".6"/>
<text x="218" y="1058" font-size="8.5">Paper</text>

<polygon points="320,1031 378,991 418,1009 353,1051" fill="#3a3a3a"/>
<polygon points="320,1027 378,987 418,1005 353,1047" fill="#fff" stroke="#333" stroke-width=".8"/>
<polygon points="328,1026 378,993 410,1006 354,1041" fill="none" stroke="#777" stroke-width=".6" stroke-dasharray="2 1.5"/>
<path d="M368 1015L352 1008M368 1015L355 1024M368 1015L385 1022M368 1015L382 1006M368 1015L366 1030M368 1015L372 1000" stroke="#555" stroke-width=".7"/>
<ellipse cx="368" cy="1015" rx="9" ry="5" fill="#eee" stroke="#555" stroke-width=".7"/>
<rect x="362" y="1002" width="12" height="12" fill="#eee" stroke="#333" stroke-width=".8"/>
<path d="M361 1002L364 997H372L375 1002" fill="#ddd" stroke="#333" stroke-width=".8"/>
<path d="M340 1045L352 1031" stroke="#333" stroke-width=".6"/>
<text x="305" y="1049" font-size="8.5" textLength="36" lengthAdjust="spacingAndGlyphs">Plastic Bag</text>

<rect x="74" y="1088" width="29" height="29" rx="3" fill="#4b5661"/>
<rect x="76.5" y="1090.5" width="24" height="24" rx="2" fill="none" stroke="#d8dde2" stroke-width=".8"/>
<path d="M80 1102Q88 1092 98 1097L95 1101Q88 1099 84 1104Z" fill="#fff"/>
<rect x="83" y="1104" width="12" height="9" rx="1" fill="#fff"/>
<text x="107" y="1101" class="b" font-size="8" textLength="26" lengthAdjust="spacingAndGlyphs">Ordering</text>
<text x="107" y="1110" class="b" font-size="8" textLength="26" lengthAdjust="spacingAndGlyphs">Example</text>
<rect x="141" y="1088" width="56" height="14" fill="#fff" stroke="#666" stroke-width=".8"/>
<text x="169" y="1099" class="b m" font-size="9" textLength="52" lengthAdjust="spacingAndGlyphs">Part Number</text>
<text x="169" y="1113" class="b m bl" font-size="9.5" textLength="28" lengthAdjust="spacingAndGlyphs">VPTS8</text>

<!-- STRUCTURE DIAGRAM -->
<rect x="440.5" y="671.5" width="14" height="14" rx="3" fill="#fff" stroke="#888"/>
<text x="447.5" y="683" class="b m" font-size="11" fill="#555">i</text>
<text x="465" y="683" class="b" font-size="12.5" textLength="106" lengthAdjust="spacingAndGlyphs">Structure Diagram</text>
<rect x="644" y="672" width="21" height="13" fill="#d6d6d6" stroke="#333" stroke-width=".8"/>
<ellipse cx="654.5" cy="672" rx="10.5" ry="4" fill="#eee" stroke="#333" stroke-width=".8"/>
<ellipse cx="654.5" cy="672" rx="4" ry="2" fill="#666"/>
<rect x="646" y="685" width="17" height="18" fill="#f2f2f2" stroke="#333" stroke-width=".8"/>
<rect x="643" y="703" width="23" height="17" fill="#bbb" stroke="#333" stroke-width=".8"/>
<path d="M643 707H666M643 711H666M643 715H666" stroke="#333" stroke-width=".8"/>
<path d="M646 720L654.5 725L663 720" fill="#999" stroke="#333" stroke-width=".8"/>
<path d="M637 691H557V700M673 691H735V700M557 713V721M493 730V721H622V730M735 713V733" fill="none" stroke="#222"/>
<path d="M735 737V757" stroke="#888" stroke-width=".6"/>
<text x="557" y="709" class="m" font-size="9" textLength="37" lengthAdjust="spacingAndGlyphs">Oval Type</text>
<text x="735" y="709" class="m" font-size="9" textLength="60" lengthAdjust="spacingAndGlyphs">Thin Object Type</text>
<text x="473" y="743" font-size="9">No.</text>
<rect x="488" y="735" width="7" height="8" fill="#fff" stroke="#666" stroke-width=".7"/>
<text x="496" y="743" font-size="9">-10</text>
<text x="598" y="743" font-size="9">No.</text>
<rect x="611" y="735" width="7" height="8" fill="#fff" stroke="#666" stroke-width=".7"/>
<text x="619" y="743" font-size="9" textLength="27" lengthAdjust="spacingAndGlyphs">-20, 30</text>

<ellipse cx="492.5" cy="763" rx="9.5" ry="4.5" fill="none" stroke="#222" stroke-width="2.5"/>
<path d="M492.5 770V784M492.5 818V830" stroke="#888" stroke-width=".6"/>
<rect x="487" y="783" width="11" height="10" fill="#e0e0e0" stroke="#444" stroke-width=".7"/>
<rect x="483" y="793" width="19" height="15" fill="#8a8a8a" stroke="#444" stroke-width=".7"/>
<rect x="484" y="808" width="21" height="9" rx="2" fill="#777" stroke="#444" stroke-width=".7"/>
<rect x="482" y="833" width="23" height="27" rx="3" fill="#8d8d8d" stroke="#555" stroke-width=".7"/>
<ellipse cx="493" cy="836" rx="11" ry="4" fill="#b0b0b0" stroke="#555" stroke-width=".6"/>
<ellipse cx="493" cy="836" rx="3" ry="1.5" fill="#666"/>
<path d="M501 760L515 750M497 787L514 778M500 840L513 832" stroke="#333" stroke-width=".6"/>
<text x="515" y="753" font-size="9">Gasket</text>
<text x="514" y="781" font-size="9">Frame</text>
<text x="513" y="835" font-size="9">Pad</text>

<ellipse cx="620" cy="763" rx="9.5" ry="4.5" fill="none" stroke="#222" stroke-width="2.5"/>
<path d="M620 770V784M620 822V836" stroke="#888" stroke-width=".6"/>
<rect x="614" y="783" width="13" height="11" fill="#e0e0e0" stroke="#444" stroke-width=".7"/>
<rect x="610" y="794" width="20" height="14" fill="#8a8a8a" stroke="#444" stroke-width=".7"/>
<path d="M605 816L612 808H637L638 816L630 822H606Z" fill="#7a7a7a" stroke="#444" stroke-width=".7"/>
<path d="M593 866L640 836Q651 831 652 840L652 846Q652 850 646 854L600 880Q591 884 590 875Z" fill="#7e7e7e" stroke="#444" stroke-width=".7"/>
<path d="M593 860L640 831Q650 826 651 834Q651 841 645 845L600 872Q592 876 591 867Z" fill="#b3b3b3" stroke="#444" stroke-width=".7"/>
<path d="M613 852L627 843L632 846L618 855Z" fill="#777" stroke="#444" stroke-width=".6"/>
<path d="M629 760L657 750M626 787L656 778M640 834L655 823" stroke="#333" stroke-width=".6"/>
<text x="657" y="753" font-size="9">Gasket</text>
<text x="656" y="781" font-size="9">Frame</text>
<text x="655" y="825" font-size="9">Pad</text>

<path d="M722 781Q724 771 729 768H742Q748 771 750 781Q736 786 722 781Z" fill="#8a8a8a" stroke="#555" stroke-width=".7"/>
<rect x="728" y="757" width="15" height="13" fill="#9a9a9a" stroke="#555" stroke-width=".7"/>
<ellipse cx="735.5" cy="757" rx="7.5" ry="3" fill="#bdbdbd" stroke="#555" stroke-width=".6"/>
<path d="M740 760L750 750" stroke="#333" stroke-width=".6"/>
<text x="750" y="752" font-size="9">Pad</text>

<!-- SPECIFICATIONS -->
<rect x="442" y="901" width="9" height="11" fill="#3b2b22"/>
<text x="452" y="912" class="b" font-size="13" textLength="84" lengthAdjust="spacingAndGlyphs">Specifications</text>
<rect x="558" y="930" width="80" height="98" fill="#d5ebf8"/>
<path d="M440 920H638" stroke="#2a2a2a" stroke-width="2"/>
<path d="M440 930H638M440 941H638M440 951.5H638M440 962H638M440 973H638M440 983.5H638M440 994H638M475 1005.5H638M440 1017H638M440 1028H638" stroke="#333" stroke-width="1"/>
<path d="M475 994V1017M558 920V1028M598 920V1028" stroke="#555" stroke-width=".7"/>
<text x="499" y="929" class="b m" font-size="10.5">Type</text>
<text x="578" y="928.5" class="b m" font-size="7" textLength="38" lengthAdjust="spacingAndGlyphs">VPET, VPTS</text>
<text x="618" y="928.5" class="b m" font-size="7" textLength="38" lengthAdjust="spacingAndGlyphs">VPES, VPTSS</text>
<g class="b" font-size="10.5">
<text x="441" y="939.5" textLength="103" lengthAdjust="spacingAndGlyphs">Max. Operating Temp.</text>
<text x="441" y="950" textLength="101" lengthAdjust="spacingAndGlyphs">Min. Operating Temp.</text>
<text x="441" y="960.5" textLength="91" lengthAdjust="spacingAndGlyphs">Weather Resistance</text>
<text x="441" y="971" textLength="85" lengthAdjust="spacingAndGlyphs">Ozone Resistance</text>
<text x="441" y="982" textLength="75" lengthAdjust="spacingAndGlyphs">Acid Resistance</text>
<text x="441" y="992.5" textLength="79" lengthAdjust="spacingAndGlyphs">Alkali Resistance</text>
<text x="441" y="1026" textLength="86" lengthAdjust="spacingAndGlyphs">Surface Resistivity</text>
</g>
<text x="441" y="1003" class="b" font-size="7">Oil</text>
<text x="441" y="1014.5" font-size="7" textLength="33" lengthAdjust="spacingAndGlyphs">Resistance</text>
<text x="476" y="1003.5" class="b" font-size="9.5" textLength="81" lengthAdjust="spacingAndGlyphs">(Gasoline, Light Oil)</text>
<text x="476" y="1015" class="b" font-size="9.5" textLength="81" lengthAdjust="spacingAndGlyphs">(Benzene, Toluene)</text>
<g class="m" font-size="9.5">
<text x="578" y="939">110°</text><text x="618" y="939">180°</text>
<text x="578" y="949.5">-30°</text><text x="618" y="949.5">-50°</text>
<text x="578" y="1026">-</text><text x="618" y="1026">-</text>
</g>
<g fill="none" stroke="#666" stroke-width=".9">
<path d="M578 952.5L582.5 960L573.5 960Z"/><circle cx="618" cy="956.7" r="4"/>
<path d="M578 963.3L582.5 970.8L573.5 970.8Z"/><circle cx="618" cy="967.5" r="4.2"/><circle cx="618" cy="967.5" r="2.2"/>
<path d="M578 974L582.5 981.5L573.5 981.5Z"/><circle cx="618" cy="978.2" r="4"/>
<circle cx="578" cy="988.7" r="4"/><circle cx="618" cy="988.7" r="4.2"/><circle cx="618" cy="988.7" r="2.2"/>
<circle cx="578" cy="999.7" r="4.2"/><circle cx="578" cy="999.7" r="2.2"/><path d="M618 995.5L622.5 1003L613.5 1003Z"/>
<path d="M578 1007L582.5 1014.5L573.5 1014.5Z"/><path d="M618 1007L622.5 1014.5L613.5 1014.5Z"/>
</g>

<!-- PROPERTIES -->
<rect x="442" y="1056" width="9" height="11" fill="#3b2b22"/>
<text x="452" y="1066" class="b" font-size="13" textLength="58" lengthAdjust="spacingAndGlyphs">Properties</text>
<text x="442" y="1079" class="b" font-size="10" textLength="51" lengthAdjust="spacingAndGlyphs">• Oval Type</text>
<text x="582" y="1079" class="b" font-size="10" textLength="83" lengthAdjust="spacingAndGlyphs">• Thin Object Type</text>
<text x="460" y="1090" font-size="6.5" textLength="32" lengthAdjust="spacingAndGlyphs">Pad Diameter:</text>
<rect x="493" y="1084" width="6" height="6" fill="#fff" stroke="#777" stroke-width=".6"/>
<text x="500" y="1090" font-size="6.5" textLength="18" lengthAdjust="spacingAndGlyphs">x10mm,</text>
<rect x="521" y="1084" width="6" height="6" fill="#fff" stroke="#777" stroke-width=".6"/>
<text x="528" y="1090" font-size="6.5" textLength="19" lengthAdjust="spacingAndGlyphs">x20mm,</text>
<rect x="493" y="1092" width="6" height="6" fill="#fff" stroke="#777" stroke-width=".6"/>
<text x="500" y="1098" font-size="6.5" textLength="16" lengthAdjust="spacingAndGlyphs">x30mm</text>

<!-- chart 1 -->
<rect x="463" y="1102" width="67" height="111" fill="#cfe9f7"/>
<path d="M476.4 1102V1213M489.8 1102V1213M503.2 1102V1213M516.6 1102V1213M463 1124.2H530M463 1146.4H530M463 1168.6H530M463 1190.8H530" stroke="#333" stroke-width=".8"/>
<rect x="463" y="1102" width="67" height="111" fill="none" stroke="#222"/>
<path d="M463 1213L530 1137.5M463 1213L530 1148.6M463 1213L530 1160.2M463 1213L530 1162.8M463 1213L530 1170.4M463 1213L530 1179.7M463 1213L530 1189.9M463 1213L530 1193.9M463 1213L530 1198.3" stroke="#111" stroke-width="1"/>
<g font-size="5" fill="#333">
<text x="532" y="1138">6x30</text><text x="532" y="1147">5x30</text><text x="532" y="1159">4x30</text><text x="532" y="1164">6x20</text><text x="532" y="1171">5x20</text><text x="532" y="1180">4x20</text><text x="532" y="1189">6x10</text><text x="532" y="1194.5">5x10</text><text x="532" y="1200">4x10</text>
</g>
<g class="e" font-size="7">
<text x="459" y="1105">25</text><text x="459" y="1127">20</text><text x="459" y="1149">15</text><text x="459" y="1171">10</text><text x="459" y="1193.5">5</text><text x="459" y="1215.5">0</text>
</g>
<g class="m" font-size="6.5">
<text x="463" y="1223">0</text><text x="476.4" y="1223">20</text><text x="489.8" y="1223">40</text><text x="503.2" y="1223">60</text><text x="516.6" y="1223">80</text><text x="530" y="1223">100</text>
</g>
<text x="497" y="1235" class="m" font-size="7" textLength="55" lengthAdjust="spacingAndGlyphs">Vacuum Level (-kPa)</text>
<text transform="translate(448 1157) rotate(-90)" class="m" font-size="7.5" textLength="100" lengthAdjust="spacingAndGlyphs">Theoretical Suction Force (N)</text>
<text transform="translate(563 1148) rotate(-90)" class="m" font-size="8" textLength="68" lengthAdjust="spacingAndGlyphs">Pad Diameter (mm)</text>

<!-- chart 2 -->
<rect x="602" y="1102" width="57" height="111" fill="#cfe9f7"/>
<path d="M613.4 1102V1213M624.8 1102V1213M636.2 1102V1213M647.6 1102V1213M602 1113.1H659M602 1124.2H659M602 1135.3H659M602 1146.4H659M602 1157.5H659M602 1168.6H659M602 1179.7H659M602 1190.8H659M602 1201.9H659" stroke="#333" stroke-width=".8"/>
<rect x="602" y="1102" width="57" height="111" fill="none" stroke="#222"/>
<path d="M602 1213L659 1115.9M602 1213L659 1168.6M602 1213L659 1185.3" stroke="#111" stroke-width="1.1"/>
<g font-size="8"><text x="663" y="1115">Ø15</text><text x="663" y="1171">Ø10</text><text x="663" y="1188">Ø8</text></g>
<g class="e" font-size="6.5">
<text x="598" y="1104.5">20</text><text x="598" y="1115.6">18</text><text x="598" y="1126.7">16</text><text x="598" y="1137.8">14</text><text x="598" y="1148.9">12</text><text x="598" y="1160">10</text><text x="598" y="1171.1">8</text><text x="598" y="1182.2">6</text><text x="598" y="1193.3">4</text><text x="598" y="1204.4">2</text><text x="598" y="1215.5">0</text>
</g>
<g class="m" font-size="6.5">
<text x="602" y="1223">0</text><text x="613.4" y="1223">20</text><text x="624.8" y="1223">40</text><text x="636.2" y="1223">60</text><text x="647.6" y="1223">80</text><text x="659" y="1223">100</text>
</g>
<text x="631" y="1235" class="m" font-size="7" textLength="55" lengthAdjust="spacingAndGlyphs">Vacuum Level (-kPa)</text>
<text transform="translate(590 1157) rotate(-90)" class="m" font-size="7.5" textLength="100" lengthAdjust="spacingAndGlyphs">Theoretical Suction Force (N)</text>
<text transform="translate(690 1150) rotate(-90)" class="m" font-size="8" textLength="68" lengthAdjust="spacingAndGlyphs">Pad Diameter (mm)</text>

<!-- chart 3 -->
<rect x="739" y="1102" width="56" height="111" fill="#cfe9f7"/>
<path d="M750.2 1102V1213M761.4 1102V1213M772.6 1102V1213M783.8 1102V1213M739 1124.2H795M739 1146.4H795M739 1168.6H795M739 1190.8H795" stroke="#333" stroke-width=".8"/>
<rect x="739" y="1102" width="56" height="111" fill="none" stroke="#222"/>
<path d="M739 1213L795 1199" stroke="#111" stroke-width="1.1"/>
<text x="800" y="1200" font-size="8">Ø20</text>
<g class="e" font-size="6.5">
<text x="735" y="1105">250</text><text x="735" y="1127">200</text><text x="735" y="1149">150</text><text x="735" y="1171">100</text><text x="735" y="1193.5">50</text><text x="735" y="1215.5">0</text>
</g>
<g class="m" font-size="6.5">
<text x="739" y="1223">0</text><text x="750.2" y="1223">20</text><text x="761.4" y="1223">40</text><text x="772.6" y="1223">60</text><text x="783.8" y="1223">80</text><text x="795" y="1223">100</text>
</g>
<text x="767" y="1235" class="m" font-size="7" textLength="55" lengthAdjust="spacingAndGlyphs">Vacuum Level (-kPa)</text>
<text transform="translate(721 1157) rotate(-90)" class="m" font-size="7.5" textLength="100" lengthAdjust="spacingAndGlyphs">Theoretical Suction Force (N)</text>
<text transform="translate(821 1150) rotate(-90)" class="m" font-size="8" textLength="68" lengthAdjust="spacingAndGlyphs">Pad Diameter (mm)</text>

<!-- page number -->
<rect x="829" y="1239" width="15" height="17" fill="#111"/>
<text x="836.5" y="1254" class="b m w" font-size="16">2</text>
<text x="845" y="1254" class="b" font-size="17" textLength="40" lengthAdjust="spacingAndGlyphs">-1452</text>
</svg>
</body></html>
